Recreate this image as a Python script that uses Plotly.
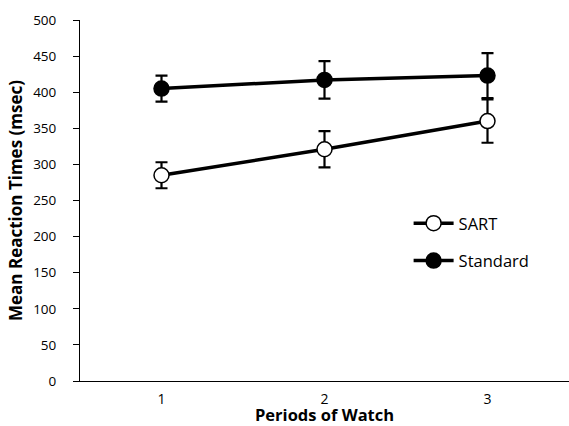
import plotly.graph_objects as go

periods = [1, 2, 3]
sart_mean = [285, 321, 360]
sart_err = [18, 25, 30]
standard_mean = [405, 417, 423]
standard_err = [18, 26, 31]
y_ticks = [0, 50, 100, 150, 200, 250, 300, 350, 400, 450, 500]

font_family = "Open Sans, Noto Sans, sans-serif"

fig = go.Figure()
fig.add_trace(go.Scatter(
    x=periods, y=sart_mean, name="SART", mode="lines+markers",
    legendgroup="a",
    line=dict(color="black", width=3.5),
    marker=dict(symbol="circle", size=15, color="white", line=dict(color="black", width=1.5)),
    error_y=dict(type="data", array=sart_err, visible=True, color="black", thickness=2.2, width=6),
))
fig.add_trace(go.Scatter(
    x=periods, y=standard_mean, name="Standard", mode="lines+markers",
    legendgroup="b",
    line=dict(color="black", width=3.5),
    marker=dict(symbol="circle", size=15, color="black", line=dict(color="black", width=1.5)),
    error_y=dict(type="data", array=standard_err, visible=True, color="black", thickness=2.2, width=6),
))

fig.update_layout(
    width=569, height=426,
    margin=dict(l=80, r=0, t=20, b=45),
    plot_bgcolor="white", paper_bgcolor="white",
    font=dict(family=font_family, size=13.5, color="black"),
    showlegend=True,
    legend=dict(x=0.672, y=0.485, xanchor="left", yanchor="top",
                traceorder="grouped", itemwidth=40,
                font=dict(size=16.5), tracegroupgap=13, bgcolor="rgba(0,0,0,0)"),
    xaxis=dict(
        range=[0.5, 3.5], tickvals=periods, ticktext=[str(p) for p in periods],
        showline=True, linecolor="black", linewidth=1, ticks="",
        showgrid=False, zeroline=False, automargin=False,
        tickfont=dict(size=14), ticklabelstandoff=5,
    ),
    yaxis=dict(
        range=[0, 500], tickvals=y_ticks,
        showline=True, linecolor="black", linewidth=1, ticks="outside", ticklen=6,
        tickcolor="black", tickwidth=1,
        showgrid=False, zeroline=False, automargin=False,
        tickfont=dict(size=13.5), ticklabelstandoff=14,
        title=dict(text="<b>Mean Reaction Times (msec)</b>", font=dict(size=17), standoff=6),
    ),
    annotations=[dict(
        text="<b>Periods of Watch</b>", xref="paper", yref="paper",
        x=0.5, y=-0.094, xanchor="center", yanchor="middle",
        showarrow=False, font=dict(size=16.5),
    )],
)

# remove the browser's default 8px body margin so the figure fills the window
fig.write_html("out.html", config={"displayModeBar": False},
               post_script="document.body.style.margin='0';document.body.style.overflow='hidden';")
